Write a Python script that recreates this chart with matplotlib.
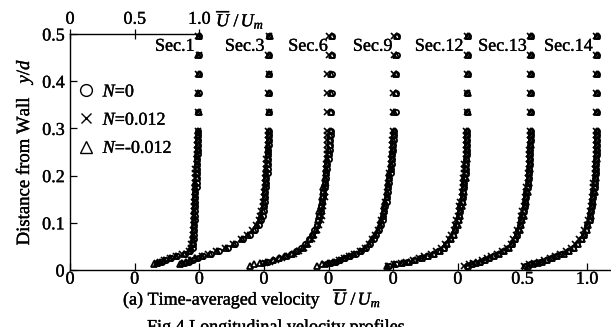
import numpy as np
import matplotlib
matplotlib.use("Agg")
import matplotlib.pyplot as plt
import matplotlib.patheffects as pe
from matplotlib.lines import Line2D

plt.rcParams["font.family"] = ["Liberation Serif", "DejaVu Serif"]
plt.rcParams["mathtext.fontset"] = "custom"
plt.rcParams["mathtext.rm"] = "Liberation Serif"
plt.rcParams["mathtext.it"] = "Liberation Serif:italic"

nan = np.nan

# ---------------------------------------------------------------------------
# data: y/d positions and U/Um per section and N
# ---------------------------------------------------------------------------

Y = [0.495, 0.455, 0.415, 0.375, 0.335,
     0.295, 0.285, 0.275, 0.265, 0.255, 0.245, 0.235, 0.225, 0.215, 0.205,
     0.195, 0.185, 0.175, 0.165, 0.155, 0.145, 0.135, 0.125, 0.115, 0.105,
     0.095, 0.085, 0.075, 0.065, 0.055,
     0.047, 0.040, 0.034, 0.029, 0.025, 0.021, 0.018, 0.015, 0.012, 0.009]

SECTIONS = ["Sec.1", "Sec.3", "Sec.6", "Sec.9", "Sec.12", "Sec.13", "Sec.14"]
LEGEND_LABELS = ["$N$=0", "$N$=0.012", "$N$=-0.012"]

SEC1_N0 = [1.00, 1.00, 1.00, 1.00, 0.99,
           0.99, 0.99, 0.99, 0.99, 0.99, 0.99, 0.98, 0.98, 0.98, 0.98,
           0.98, 0.98, 0.98, 0.97, 0.97, 0.97, 0.97, 0.97, 0.97, 0.97,
           0.96, 0.96, 0.96, 0.96, 0.95,
           0.95, 0.93, 0.89, 0.83, 0.78, 0.74, 0.71, 0.68, nan, nan]
SEC1_NP = [0.99, 1.00, 0.99, 0.99, 0.99,
           0.99, 0.99, 0.98, 0.98, 0.98, 0.98, 0.98, 0.98, 0.97, 0.97,
           0.97, 0.97, 0.97, 0.97, 0.97, 0.96, 0.96, 0.96, 0.96, 0.96,
           0.96, 0.95, 0.95, 0.95, 0.94,
           0.94, 0.92, 0.87, 0.82, 0.77, 0.73, 0.70, 0.67, nan, nan]
SEC1_NM = [1.00, 0.99, 1.00, 0.99, 1.00,
           0.99, 0.99, 0.99, 0.99, 0.99, 0.98, 0.98, 0.98, 0.98, 0.98,
           0.98, 0.97, 0.97, 0.97, 0.97, 0.97, 0.97, 0.96, 0.96, 0.96,
           0.96, 0.96, 0.95, 0.95, 0.95,
           0.94, 0.92, 0.88, 0.82, 0.77, 0.73, 0.70, 0.67, 0.65, nan]

SEC3_N0 = [1.04, 1.04, 1.04, 1.04, 1.04,
           1.04, 1.04, 1.04, 1.04, 1.03, 1.03, 1.03, 1.03, 1.03, 1.03,
           1.02, 1.02, 1.02, 1.01, 1.01, 1.01, 1.00, 1.00, 0.99, 0.98,
           0.96, 0.93, 0.89, 0.84, 0.78,
           0.72, 0.65, 0.59, 0.53, 0.49, 0.45, 0.42, 0.39, nan, nan]
SEC3_NP = [1.04, 1.03, 1.04, 1.03, 1.04,
           1.03, 1.03, 1.03, 1.03, 1.03, 1.03, 1.02, 1.02, 1.02, 1.02,
           1.01, 1.01, 1.01, 1.00, 1.00, 0.99, 0.99, 0.98, 0.97, 0.96,
           0.94, 0.91, 0.87, 0.82, 0.76,
           0.70, 0.63, 0.57, 0.52, 0.48, 0.44, 0.41, 0.38, nan, nan]
SEC3_NM = [1.05, 1.04, 1.04, 1.04, 1.04,
           1.04, 1.04, 1.04, 1.03, 1.03, 1.03, 1.03, 1.03, 1.02, 1.02,
           1.02, 1.02, 1.01, 1.01, 1.01, 1.00, 1.00, 0.99, 0.98, 0.97,
           0.95, 0.92, 0.88, 0.83, 0.77,
           0.71, 0.64, 0.58, 0.52, 0.47, 0.43, 0.40, 0.37, 0.35, nan]

SEC6_N0 = [1.03, 1.03, 1.03, 1.03, 1.02,
           1.02, 1.02, 1.01, 1.01, 1.01, 1.00, 1.00, 0.99, 0.99, 0.98,
           0.98, 0.97, 0.97, 0.96, 0.96, 0.95, 0.94, 0.94, 0.93, 0.92,
           0.91, 0.89, 0.87, 0.85, 0.82,
           0.79, 0.75, 0.71, 0.66, 0.62, 0.57, 0.53, 0.49, nan, nan]
SEC6_NP = [1.00, 1.00, 0.99, 0.99, 0.99,
           0.99, 0.99, 0.99, 0.99, 0.99, 0.99, 0.99, 0.98, 0.98, 0.98,
           0.98, 0.98, 0.97, 0.97, 0.97, 0.96, 0.96, 0.95, 0.95, 0.94,
           0.93, 0.91, 0.89, 0.87, 0.84,
           0.81, 0.77, 0.73, 0.68, 0.64, 0.59, 0.55, 0.51, nan, nan]
SEC6_NM = [1.03, 1.03, 1.02, 1.02, 1.02,
           1.02, 1.01, 1.01, 1.01, 1.00, 1.00, 0.99, 0.99, 0.98, 0.98,
           0.97, 0.97, 0.96, 0.96, 0.95, 0.95, 0.94, 0.93, 0.93, 0.92,
           0.91, 0.90, 0.88, 0.86, 0.83,
           0.80, 0.76, 0.72, 0.67, 0.62, 0.57, 0.52, 0.47, 0.42, 0.39]

SEC9_N0 = [1.03, 1.03, 1.02, 1.02, 1.02,
           1.01, 1.01, 1.01, 1.00, 1.00, 0.99, 0.99, 0.99, 0.98, 0.98,
           0.97, 0.97, 0.96, 0.96, 0.95, 0.95, 0.94, 0.93, 0.92, 0.92,
           0.91, 0.89, 0.87, 0.85, 0.82,
           0.79, 0.75, 0.71, 0.67, 0.63, 0.59, 0.56, 0.52, 0.48, nan]
SEC9_NP = [1.01, 1.01, 1.01, 1.00, 1.00,
           1.00, 1.00, 0.99, 0.99, 0.99, 0.99, 0.98, 0.98, 0.98, 0.97,
           0.97, 0.96, 0.96, 0.95, 0.95, 0.94, 0.94, 0.93, 0.92, 0.91,
           0.90, 0.88, 0.86, 0.84, 0.81,
           0.78, 0.74, 0.70, 0.66, 0.62, 0.58, 0.55, 0.51, 0.47, nan]
SEC9_NM = [1.03, 1.02, 1.02, 1.02, 1.01,
           1.01, 1.01, 1.00, 1.00, 1.00, 0.99, 0.99, 0.98, 0.98, 0.97,
           0.97, 0.96, 0.96, 0.95, 0.95, 0.94, 0.93, 0.93, 0.92, 0.91,
           0.90, 0.88, 0.86, 0.84, 0.81,
           0.78, 0.74, 0.70, 0.66, 0.62, 0.58, 0.54, 0.50, 0.45, 0.41]

SEC12_N0 = [1.08, 1.08, 1.08, 1.07, 1.07,
            1.07, 1.07, 1.07, 1.07, 1.07, 1.07, 1.06, 1.06, 1.06, 1.06,
            1.05, 1.05, 1.05, 1.04, 1.04, 1.03, 1.02, 1.02, 1.01, 1.00,
            0.99, 0.98, 0.96, 0.94, 0.91,
            0.89, 0.85, 0.81, 0.76, 0.71, 0.66, 0.61, 0.57, 0.52, 0.47]
SEC12_NP = [1.07, 1.07, 1.07, 1.07, 1.07,
            1.06, 1.06, 1.06, 1.06, 1.06, 1.06, 1.06, 1.05, 1.05, 1.05,
            1.04, 1.04, 1.04, 1.03, 1.03, 1.02, 1.01, 1.01, 1.00, 0.99,
            0.98, 0.97, 0.95, 0.93, 0.90,
            0.87, 0.83, 0.79, 0.74, 0.70, 0.65, 0.60, 0.56, 0.51, 0.46]
SEC12_NM = [1.08, 1.08, 1.08, 1.08, 1.08,
            1.07, 1.07, 1.07, 1.07, 1.07, 1.07, 1.07, 1.06, 1.06, 1.06,
            1.06, 1.05, 1.05, 1.05, 1.04, 1.04, 1.03, 1.02, 1.02, 1.01,
            1.00, 0.98, 0.97, 0.95, 0.92,
            0.89, 0.86, 0.82, 0.77, 0.72, 0.67, 0.62, 0.57, 0.51, 0.45]

SEC13_N0 = [1.07, 1.07, 1.07, 1.07, 1.07,
            1.07, 1.07, 1.07, 1.06, 1.06, 1.06, 1.06, 1.06, 1.05, 1.05,
            1.05, 1.04, 1.04, 1.03, 1.03, 1.02, 1.02, 1.01, 1.00, 0.99,
            0.98, 0.97, 0.96, 0.94, 0.92,
            0.89, 0.85, 0.81, 0.77, 0.74, 0.70, 0.67, 0.63, 0.60, 0.57]
SEC13_NP = [1.06, 1.06, 1.06, 1.06, 1.06,
            1.06, 1.06, 1.06, 1.06, 1.05, 1.05, 1.05, 1.05, 1.05, 1.04,
            1.04, 1.04, 1.03, 1.03, 1.02, 1.02, 1.01, 1.00, 0.99, 0.99,
            0.98, 0.96, 0.95, 0.93, 0.91,
            0.88, 0.84, 0.80, 0.76, 0.73, 0.69, 0.66, 0.62, 0.59, 0.55]
SEC13_NM = [1.07, 1.07, 1.07, 1.07, 1.07,
            1.07, 1.07, 1.07, 1.07, 1.06, 1.06, 1.06, 1.06, 1.06, 1.05,
            1.05, 1.05, 1.04, 1.04, 1.03, 1.03, 1.02, 1.01, 1.01, 1.00,
            0.99, 0.98, 0.96, 0.94, 0.92,
            0.90, 0.86, 0.82, 0.78, 0.74, 0.71, 0.67, 0.64, 0.61, 0.58]

SEC14_N0 = [1.08, 1.08, 1.08, 1.08, 1.08,
            1.08, 1.08, 1.08, 1.08, 1.08, 1.08, 1.07, 1.07, 1.07, 1.07,
            1.06, 1.06, 1.06, 1.05, 1.05, 1.04, 1.04, 1.03, 1.02, 1.02,
            1.00, 0.99, 0.98, 0.95, 0.92,
            0.89, 0.85, 0.80, 0.76, 0.72, 0.68, 0.64, 0.60, 0.56, 0.52]
SEC14_NP = [1.07, 1.07, 1.07, 1.07, 1.07,
            1.07, 1.07, 1.07, 1.07, 1.07, 1.07, 1.07, 1.06, 1.06, 1.06,
            1.06, 1.05, 1.05, 1.05, 1.04, 1.04, 1.03, 1.02, 1.02, 1.01,
            1.00, 0.98, 0.97, 0.94, 0.91,
            0.88, 0.84, 0.79, 0.75, 0.71, 0.67, 0.63, 0.59, 0.55, 0.51]
SEC14_NM = [1.08, 1.08, 1.08, 1.08, 1.08,
            1.08, 1.08, 1.08, 1.08, 1.08, 1.08, 1.08, 1.07, 1.07, 1.07,
            1.07, 1.06, 1.06, 1.06, 1.05, 1.05, 1.04, 1.03, 1.03, 1.02,
            1.01, 1.00, 0.98, 0.96, 0.93,
            0.90, 0.86, 0.82, 0.77, 0.73, 0.69, 0.65, 0.62, 0.58, 0.54]

PROFILES = [
    (SEC1_N0, SEC1_NP, SEC1_NM),
    (SEC3_N0, SEC3_NP, SEC3_NM),
    (SEC6_N0, SEC6_NP, SEC6_NM),
    (SEC9_N0, SEC9_NP, SEC9_NM),
    (SEC12_N0, SEC12_NP, SEC12_NM),
    (SEC13_N0, SEC13_NP, SEC13_NM),
    (SEC14_N0, SEC14_NP, SEC14_NM),
]

BOTTOM_TICKS = [0, 0.5, 1.0, 1.5, 2.0, 2.5, 3.0, 3.5, 4.0]
BOTTOM_LABELS = ["0", "0", "0", "0", "0", "0", "0", "0.5", "1.0"]
TOP_TICKS = [0, 0.5, 1.0]
TOP_LABELS = ["0", "0.5", "1.0"]
Y_TICKS = [0, 0.1, 0.2, 0.3, 0.4, 0.5]
Y_LABELS = ["0", "0.1", "0.2", "0.3", "0.4", "0.5"]

# each section is shifted by 0.5 along the velocity axis
SHIFT = 0.5

# ---------------------------------------------------------------------------
# figure
# ---------------------------------------------------------------------------

FS = 13
W, H = 611, 327
INK = [pe.withStroke(linewidth=0.25, foreground="k")]   # scanned-print weight

fig = plt.figure(figsize=(W / 100, H / 100), dpi=100)
ax = fig.add_axes([70 / W, (H - 270) / H, 1 - 70 / W, 236 / H])

styles = [dict(marker="o", mfc="none", ms=3.7, mew=1.3),
          dict(marker="x", ms=3.8, mew=1.2),
          dict(marker="^", mfc="none", ms=3.9, mew=1.3)]

y = np.array(Y)
for i, (name, series) in enumerate(zip(SECTIONS, PROFILES)):
    off = i * SHIFT
    for u, st in zip(series, styles):
        ax.plot(np.array(u) + off, y, ls="none", color="k", mec="k",
                clip_on=False, **st)
    top_u = np.nanmax(series[0])
    ax.text(off + top_u - 0.035, 0.474, name, ha="right", va="center",
            fontsize=FS, path_effects=INK)

ax.set_xlim(0, (W - 70) / 129.25)
ax.set_ylim(0, 0.5)

ax.spines["right"].set_visible(False)
ax.spines["top"].set_visible(False)
for s in ("left", "bottom"):
    ax.spines[s].set_linewidth(1.0)

ax.set_xticks(BOTTOM_TICKS)
ax.set_xticklabels(BOTTOM_LABELS)
ax.set_yticks(Y_TICKS)
ax.set_yticklabels(Y_LABELS)
ax.tick_params(axis="x", direction="in", length=5, width=0.9, pad=0.5,
               labelsize=FS)
ax.tick_params(axis="y", direction="in", length=5, width=0.9, pad=4,
               labelsize=FS)

sec = ax.secondary_xaxis("top")
sec.set_xticks(TOP_TICKS)
sec.set_xticklabels(TOP_LABELS)
sec.spines["top"].set_bounds(0, 1.0)
sec.spines["top"].set_linewidth(1.0)
sec.tick_params(direction="inout", length=7, width=0.9, pad=1, labelsize=FS)

for lab in (ax.get_xticklabels() + ax.get_yticklabels()
            + sec.get_xticklabels()):
    lab.set_path_effects(INK)

ax.set_ylabel(r"Distance from Wall   $y/d$", fontsize=13.5, labelpad=5,
              path_effects=INK)

ax.annotate(r"$\overline{U}\ /\,U_m$", xy=(1.13, (H - 19) / H),
            xycoords=("data", "figure fraction"), ha="left", va="center",
            fontsize=FS, path_effects=INK)

handles = [Line2D([], [], ls="none", marker="o", mfc="none", mec="k",
                  ms=8.5, mew=1.0),
           Line2D([], [], ls="none", marker="x", color="k", ms=7, mew=1.0),
           Line2D([], [], ls="none", marker="^", mfc="none", mec="k",
                  ms=9, mew=1.0)]
leg = ax.legend(handles, LEGEND_LABELS, loc="upper left",
                bbox_to_anchor=(0.012, 0.79), frameon=False, fontsize=FS,
                handlelength=1.0, handletextpad=0.45, labelspacing=0.62,
                borderaxespad=0, borderpad=0)
for t in leg.get_texts():
    t.set_path_effects(INK)

fig.text(123 / W, (H - 298.5) / H,
         r"(a) Time-averaged velocity   $\overline{U}\ /\,U_m$",
         ha="left", va="center", fontsize=FS, path_effects=INK)
fig.text(147 / W, (H - 318) / H, "Fig.4 Longitudinal velocity profiles",
         ha="left", va="top", fontsize=FS, path_effects=INK)

fig.savefig("out.png", dpi=100)
plt.close(fig)
